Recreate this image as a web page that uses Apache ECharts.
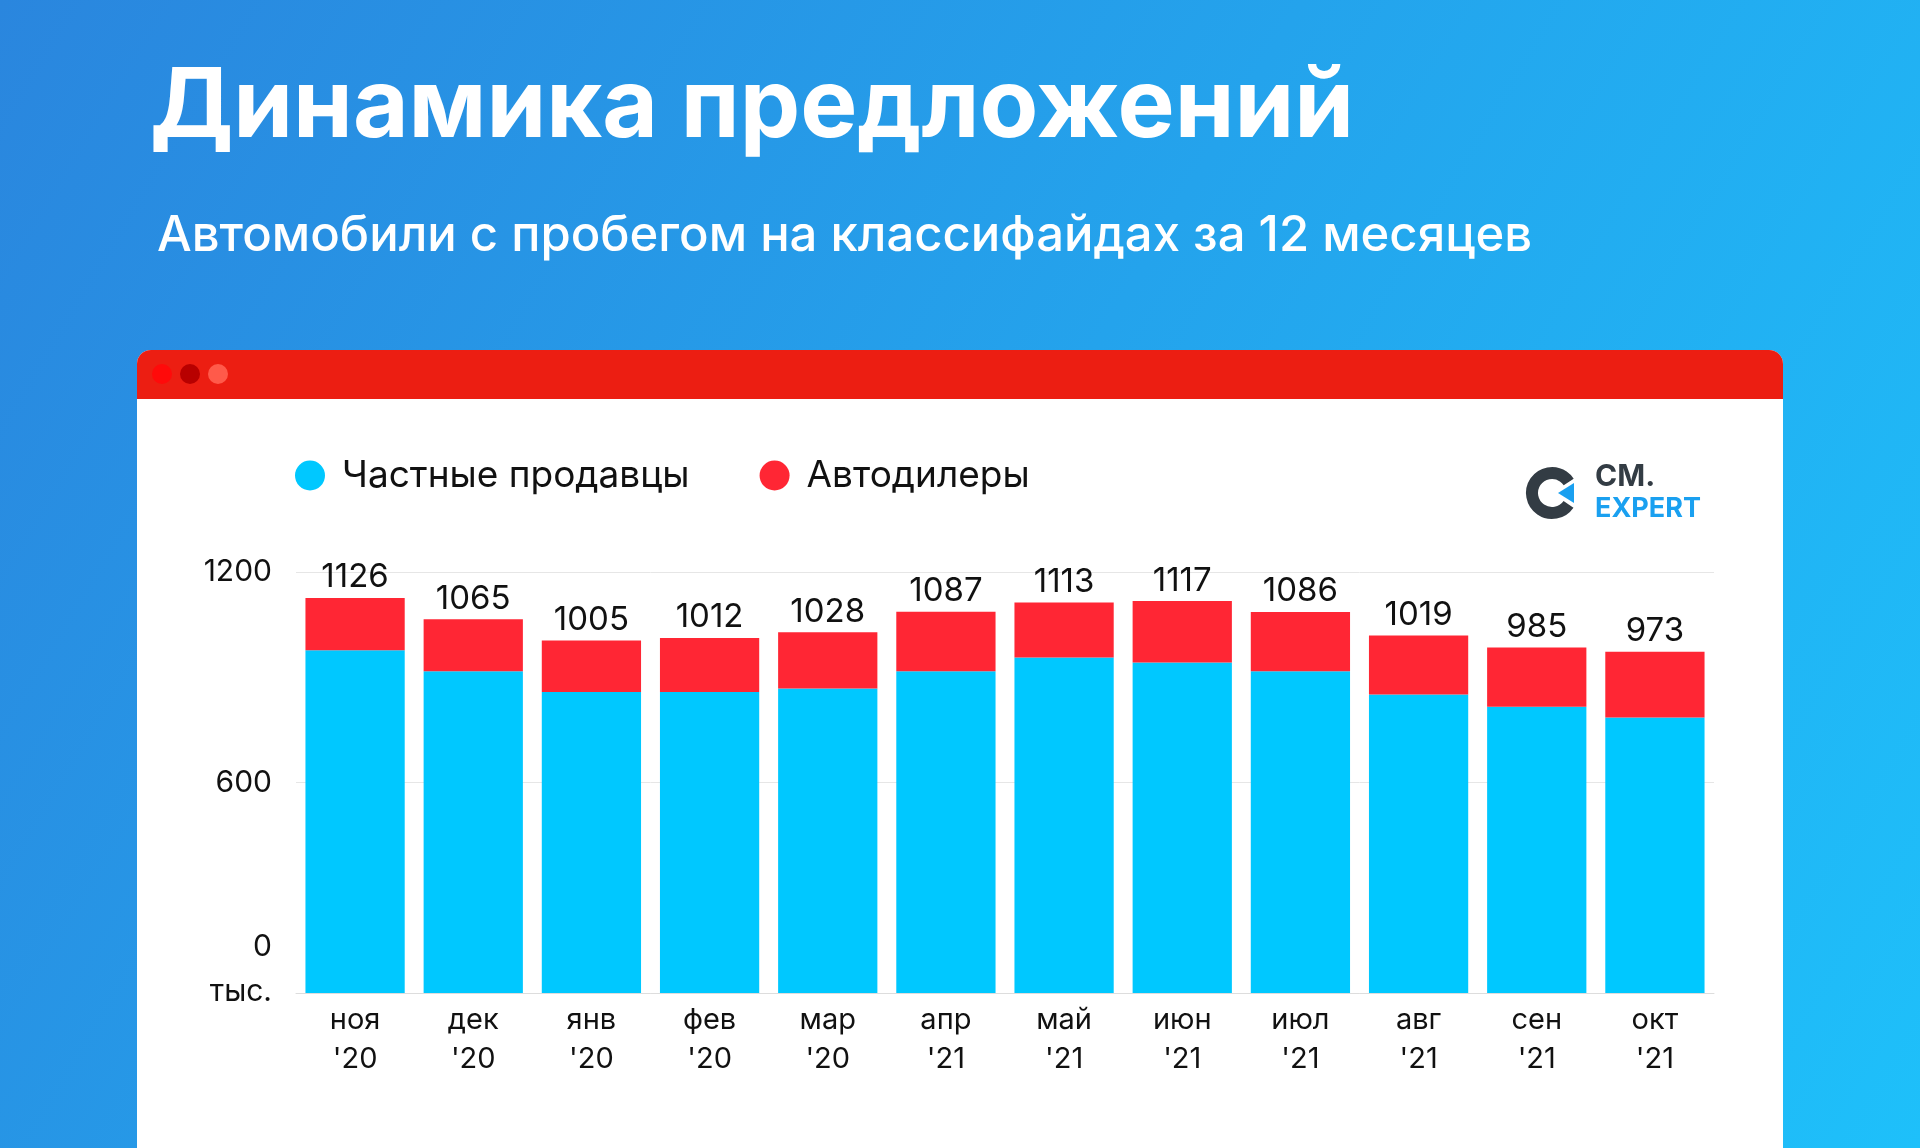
<!DOCTYPE html>
<html><head><meta charset="utf-8">
<script src="https://cdn.jsdelivr.net/npm/echarts@6/dist/echarts.min.js"></script>
<style>html,body{margin:0;padding:0;}#c{width:1920px;height:1148px;}</style>
</head><body><div id="c"></div>
<script>
const months = ['ноя','дек','янв','фев','мар','апр','май','июн','июл','авг','сен','окт'];
const years = ["'20","'20","'20","'20","'20","'21","'21","'21","'21","'21","'21","'21"];
const totals = [1126,1065,1005,1012,1028,1087,1113,1117,1086,1019,985,973];
const privateSellers = [977,917,858,858,868,917,956,942,917,851,816,785];
const dealers = totals.map((t,i)=>t-privateSellers[i]);
const yTicks = [0,600,1200];
const F = 'Inter, "Noto Sans", sans-serif';
const chart = echarts.init(document.getElementById('c'));
chart.setOption({
  backgroundColor: new echarts.graphic.LinearGradient(0,0,1,1,[{offset:0,color:'#2A86DE'},{offset:1,color:'#1EC0FA'}]),
  graphic:[
    {type:'text',left:150,top:60,style:{text:'Динамика предложений',fill:'#fff',font:'bold 96px '+F}},
    {type:'text',left:157,top:212,style:{text:'Автомобили с пробегом на классифайдах за 12 месяцев',fill:'#fff',font:'500 49px '+F}},
    {type:'rect',shape:{x:137,y:350,width:1646,height:820,r:[14,14,0,0]},style:{fill:'#fff'},z:-1},
    {type:'rect',shape:{x:137,y:350,width:1646,height:49,r:[14,14,0,0]},style:{fill:'#EC1E12'},z:-1},
    {type:'circle',shape:{cx:162,cy:374,r:10},style:{fill:'#FF0A0A'}},
    {type:'circle',shape:{cx:190,cy:374,r:10},style:{fill:'#B80000'}},
    {type:'circle',shape:{cx:218,cy:374,r:10},style:{fill:'#FF5A4A'}},
    {type:'arc',shape:{cx:1552,cy:493,r:20,startAngle:0.6,endAngle:5.7},style:{stroke:'#333C44',lineWidth:12,fill:null}},
    {type:'polygon',shape:{points:[[1558,493],[1574,483],[1574,503]]},style:{fill:'#1AA0F0'}},
    {type:'text',left:1595,top:462,style:{text:'CM.',fill:'#333C44',font:'bold 30px '+F}},
    {type:'text',left:1595,top:495,style:{text:'EXPERT',fill:'#1AA0F0',font:'bold 27px '+F}},
    {type:'text',right:1920-272,top:932,style:{text:'0',fill:'#111',font:'30px '+F,align:'right'}},
    {type:'text',right:1920-272,top:977,style:{text:'тыс.',fill:'#111',font:'30px '+F,align:'right'}}
  ],
  legend:{left:290,top:452,itemWidth:30,itemHeight:30,itemGap:70,icon:'circle',
    textStyle:{fontSize:37,color:'#111',fontFamily:F,padding:[0,0,0,12]}},
  grid:{left:296,right:206,top:572,bottom:155},
  xAxis:{type:'category',data:months.map((m,i)=>m+'\n'+years[i]),
    axisLine:{lineStyle:{color:'#ddd'}},axisTick:{show:false},
    axisLabel:{color:'#111',fontSize:29,fontFamily:F,lineHeight:39,margin:8}},
  yAxis:{type:'value',min:0,max:1200,interval:600,
    splitLine:{lineStyle:{color:'#e6e6e6'}},
    axisLabel:{color:'#111',fontSize:30,fontFamily:F,margin:24,verticalAlign:'middle',
      formatter:v=>v===yTicks[0]?'':String(v)}},
  series:[
    {name:'Частные продавцы',type:'bar',stack:'a',data:privateSellers,barWidth:'84%',itemStyle:{color:'#00C8FF'}},
    {name:'Автодилеры',type:'bar',stack:'a',data:dealers,itemStyle:{color:'#FF2634'},
     label:{show:true,position:'top',distance:4,color:'#111',fontSize:33,fontFamily:F,formatter:p=>totals[p.dataIndex]}}
  ]
});
</script></body></html>
